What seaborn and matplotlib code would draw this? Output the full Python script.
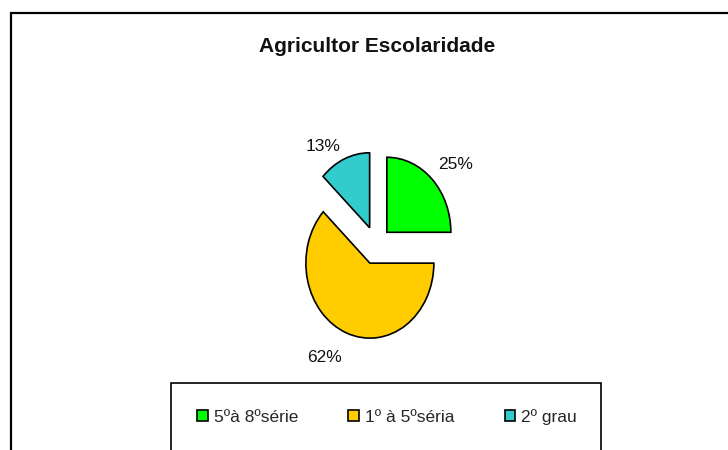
import matplotlib
matplotlib.use('Agg')
import matplotlib.pyplot as plt
from matplotlib.patches import Rectangle
import seaborn as sns

# dados
categorias = ['5ºà 8ºsérie', '1º à 5ºséria', '2º grau']
valores = [25, 62, 13]
cores = ['#00FF00', '#FFCC00', '#33CCCC']
titulo = 'Agricultor Escolaridade'

sns.set_theme(style='white')
plt.rcParams['font.family'] = ['Liberation Sans', 'DejaVu Sans']

W, H = 728, 450
fig = plt.figure(figsize=(W / 100, H / 100), dpi=100)
fig.patch.set_facecolor('white')

# moldura do grafico (sai pela direita e por baixo)
fig.patches.append(Rectangle((11 / W, -0.1), 1.2, (H - 13) / H + 0.1,
                             transform=fig.transFigure, fill=False,
                             edgecolor='black', linewidth=1.6, zorder=0))
# caixa da legenda
fig.patches.append(Rectangle((171 / W, -0.1), 430 / W, (H - 383) / H + 0.1,
                             transform=fig.transFigure, fill=False,
                             edgecolor='black', linewidth=1.2, zorder=0))

# eixo do grafico de pizza: centro (376, 245) px, raio x 64 px, raio y 75 px
cx, cy, rx, ry = 376, 245, 64, 75
ax = fig.add_axes([(cx - 2.5 * rx) / W, (H - cy - 2 * ry) / H, 5 * rx / W, 4 * ry / H])

wedges, textos, pcts = ax.pie(valores, colors=cores, startangle=90, counterclock=False,
                              explode=[0.24, 0.26, 0.25], autopct='%.0f%%',
                              pctdistance=1.4,
                              wedgeprops=dict(edgecolor='black', linewidth=1.2),
                              textprops=dict(fontsize=12.5, color='#111111'))
ax.set_aspect('auto')
ax.set_xlim(-2.5, 2.5)
ax.set_ylim(-2, 2)
ax.axis('off')

# pequenos ajustes na posicao dos rotulos
ajustes = [(0.08, -0.08), (-0.19, 0.04), (-0.17, -0.2)]
for t, (dx, dy) in zip(pcts, ajustes):
    x, y = t.get_position()
    t.set_position((x + dx, y + dy))

fig.text(377 / W, 1 - 46 / H, titulo, ha='center', va='center',
         fontsize=15, fontweight='bold', color='#111111')

fig.legend(wedges, categorias, loc='center', bbox_to_anchor=(387 / W, 1 - 417 / H),
           ncol=3, frameon=False, fontsize=12.5, handlelength=0.6, handleheight=0.6,
           handletextpad=0.35, columnspacing=2.9)

fig.savefig('out.png', dpi=100, facecolor='white')
